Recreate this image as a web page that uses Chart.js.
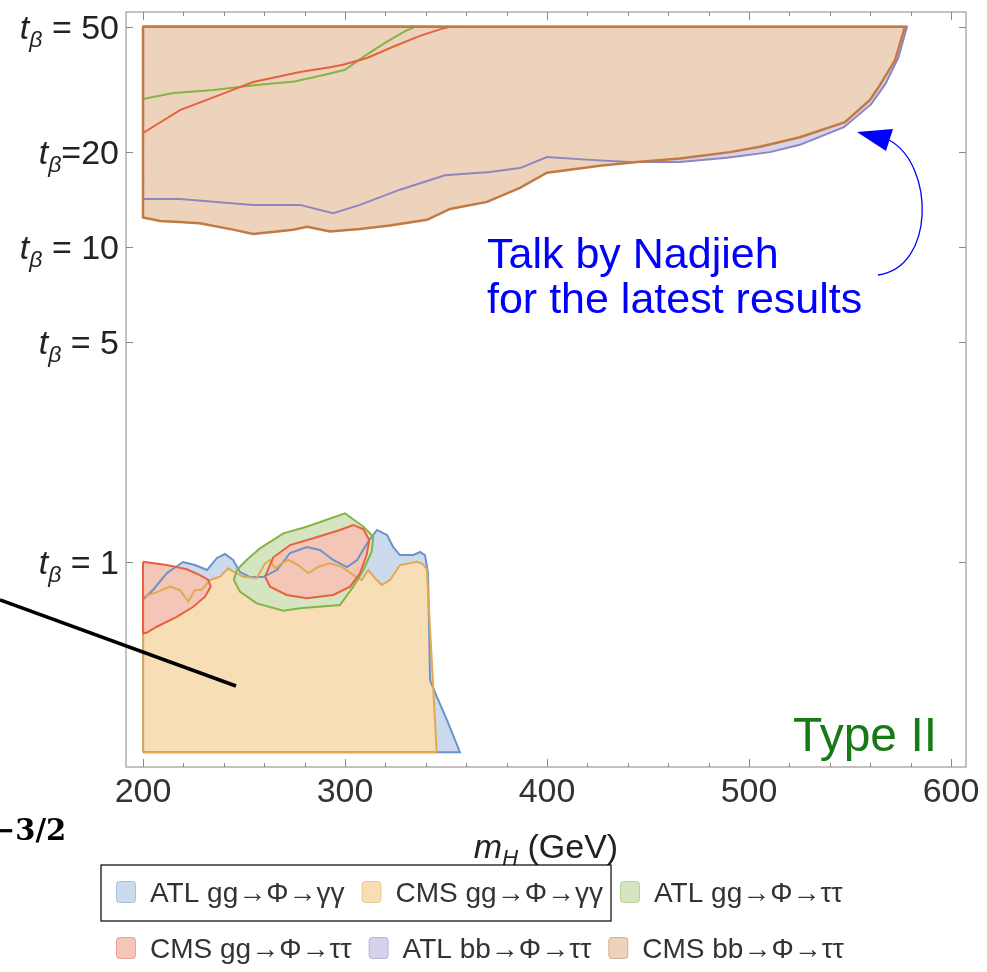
<!DOCTYPE html>
<html>
<head>
<meta charset="utf-8">
<script src="https://cdn.jsdelivr.net/npm/chart.js@4.4.1/dist/chart.umd.min.js"></script>
<style>
  html, body { margin: 0; padding: 0; background: #fff; }
  #wrap { width: 987px; height: 972px; }
</style>
</head>
<body>
<div id="wrap"><canvas id="excl"></canvas></div>
<script>
// excluded regions in the (mH, tan beta) plane, each one a closed outline
const seriesLabels = ['ATL gg\u2192\u03A6\u2192\u03B3\u03B3', 'CMS gg\u2192\u03A6\u2192\u03B3\u03B3', 'ATL gg\u2192\u03A6\u2192\u03C4\u03C4',
                      'CMS gg\u2192\u03A6\u2192\u03C4\u03C4', 'ATL bb\u2192\u03A6\u2192\u03C4\u03C4', 'CMS bb\u2192\u03A6\u2192\u03C4\u03C4'];

const xTickValues = [200, 300, 400, 500, 600];
const yTickValues = [1, 5, 10, 20, 50];
const yTickRest = [' = 1', ' = 5', ' = 10', '=20', ' = 50'];

// ATL gg -> gamma gamma
const atlGamMass = [200, 200, 204.9, 211.9, 219.8, 225.7, 231.7, 236.6, 240.6, 244.6, 248.0, 253.0, 259.4, 266.3, 272.8, 281.2, 287.6, 294.1, 301.0, 306.0, 311.0, 315.8, 320.8, 323.8, 327.2, 333.7, 337.1, 339.6, 341.1, 342.1, 345.5, 350.5, 356.9, 200];
const atlGamTanb = [0.249, 0.76, 0.815, 0.923, 1.0, 0.978, 0.943, 1.03, 1.06, 1.015, 0.93, 0.896, 0.896, 0.943, 1.068, 1.116, 1.092, 1.015, 0.964, 1.015, 1.149, 1.264, 1.218, 1.116, 1.052, 1.052, 1.076, 1.052, 0.923, 0.422, 0.373, 0.315, 0.249, 0.249];

// CMS gg -> gamma gamma
const cmsGamMass = [200, 200.1, 207.6, 213.4, 218.3, 222.4, 225.7, 229.0, 233.2, 238.1, 242.2, 244.7, 249.7, 256.3, 260.4, 262.9, 265.3, 268.7, 271.9, 276.9, 281.8, 286.8, 292.6, 298.4, 304.1, 308.3, 311.5, 314.9, 318.2, 322.3, 327.2, 335.5, 338.5, 340.5, 345.4, 200];
const cmsGamTanb = [0.249, 0.776, 0.805, 0.835, 0.815, 0.748, 0.815, 0.815, 0.877, 0.898, 0.955, 0.932, 0.898, 0.888, 0.99, 1.015, 0.955, 0.99, 1.015, 0.978, 0.921, 0.966, 0.99, 0.966, 0.909, 0.877, 0.943, 0.888, 0.845, 0.877, 0.978, 1.002, 0.985, 0.95, 0.249, 0.249];

// ATL gg -> tau tau (high tan beta part, low tan beta island)
const atlTauHiMass = [200, 215, 235, 255, 275, 290, 300, 310, 320, 330, 335, 200, 200];
const atlTauHiTanb = [29.5, 30.8, 31.5, 32.6, 33.5, 35.2, 36.5, 40.5, 44.5, 48.5, 50, 50, 29.5];
const atlTauLoMass = [246.4, 251.3, 257.9, 269.5, 281.0, 300.0, 309.1, 314.0, 313.2, 309.1, 304.1, 297.5, 277.7, 269.5, 256.3, 248.0, 245.0, 246.4];
const atlTauLoTanb = [0.943, 1.015, 1.105, 1.233, 1.294, 1.428, 1.294, 1.203, 1.078, 0.943, 0.835, 0.730, 0.713, 0.700, 0.739, 0.805, 0.877, 0.943];

// CMS gg -> tau tau (high part, two islands)
const cmsTauHiMass = [200, 218.3, 241.6, 254.5, 277.7, 292.6, 299, 310.9, 323.8, 337.1, 348.5, 352, 200, 200];
const cmsTauHiTanb = [23.0, 27.2, 31.0, 33.4, 35.9, 37.2, 37.9, 39.8, 43.2, 46.8, 49.4, 50, 50, 23.0];
const cmsTauLeftMass = [200, 211.7, 221.6, 228.2, 232.3, 233.5, 230.7, 224.9, 216.7, 206.8, 201.8, 200, 200];
const cmsTauLeftTanb = [1.002, 0.978, 0.948, 0.909, 0.877, 0.835, 0.776, 0.721, 0.670, 0.623, 0.596, 0.594, 1.002];
const cmsTauMidMass = [260.4, 264.5, 272.8, 284.3, 297.5, 304.1, 309.1, 312.0, 310.7, 307.4, 302.5, 294.2, 281.0, 271.1, 262.9, 260.4];
const cmsTauMidTanb = [0.898, 1.035, 1.132, 1.189, 1.264, 1.311, 1.270, 1.175, 1.052, 0.921, 0.835, 0.786, 0.767, 0.786, 0.835, 0.898];

// ATL bb -> tau tau
const atlBbMass = [200, 578.2, 574.0, 567.6, 560.5, 547.0, 525.2, 510.4, 489.1, 465.8, 441.1, 421.3, 400, 386.6, 371.8, 349.5, 327.2, 307.4, 294.1, 277.7, 254.5, 218.3, 200, 200];
const atlBbTanb = [50, 50, 40.0, 33.0, 28.4, 24.0, 21.1, 20.0, 19.2, 18.6, 18.6, 18.9, 19.3, 17.8, 17.3, 16.9, 15.2, 13.6, 12.8, 13.6, 13.6, 14.2, 14.2, 50];

// CMS bb -> tau tau
const cmsBbMass = [200, 577.2, 572.3, 564.9, 559.9, 547.5, 525.2, 505.4, 490.6, 465.8, 444.6, 426.2, 400, 386.6, 370.3, 352, 340.6, 322.3, 307.4, 292.6, 281.2, 274.3, 266.3, 254.5, 244.6, 228, 218, 208.4, 200, 200];
const cmsBbTanb = [50, 50, 39.2, 32.7, 29.3, 24.9, 22.3, 20.8, 20.0, 19.1, 18.6, 18.1, 17.2, 15.4, 13.9, 13.2, 12.2, 11.7, 11.4, 11.2, 11.6, 11.35, 11.2, 11.0, 11.35, 11.9, 12.0, 12.1, 12.4, 50];

const lineColors = ['#6a94c9', '#e2a94f', '#86b346', '#e8603f', '#8e86c0', '#c27a45'];
const fillColors = ['rgb(204,218,237)', 'rgb(247,222,182)', 'rgb(214,229,193)', 'rgb(243,198,184)', 'rgb(214,210,234)', 'rgb(237,211,188)'];

function region(mass, tanb, series, order) {
  return {
    label: seriesLabels[series],
    data: mass.map((m, i) => ({ x: m, y: tanb[i] })),
    showLine: true,
    fill: 'shape',
    pointRadius: 0,
    borderWidth: series === 5 ? 2.5 : 2,
    borderColor: lineColors[series],
    backgroundColor: fillColors[series],
    order: order
  };
}

const datasets = [
  region(atlGamMass, atlGamTanb, 0, 10),
  region(cmsGamMass, cmsGamTanb, 1, 9),
  region(atlTauLoMass, atlTauLoTanb, 2, 4),
  region(cmsTauLeftMass, cmsTauLeftTanb, 3, 3),
  region(cmsTauMidMass, cmsTauMidTanb, 3, 3),
  region(atlBbMass, atlBbTanb, 4, 8),
  region(atlTauHiMass, atlTauHiTanb, 2, 7),
  region(cmsTauHiMass, cmsTauHiTanb, 3, 6),
  region(cmsBbMass, cmsBbTanb, 5, 5)
];

const SANS = '"Liberation Sans", Arial, sans-serif';

// frame, inward ticks, subscripted labels, notes and the legend
const decorations = {
  id: 'decorations',
  afterDraw(chart) {
    const ctx = chart.ctx;
    const { left, right, top, bottom } = chart.chartArea;
    const xs = chart.scales.x, ys = chart.scales.y;
    ctx.save();

    // frame
    ctx.strokeStyle = '#9a9a9a';
    ctx.lineWidth = 1.2;
    ctx.strokeRect(left, top, right - left, bottom - top);

    // ticks pointing inward
    ctx.strokeStyle = '#8a8a8a';
    ctx.lineWidth = 1;
    ctx.beginPath();
    for (let m = 200; m <= 600; m += 20) {
      const px = Math.round(xs.getPixelForValue(m)) + 0.5;
      const len = m % 100 === 0 ? 8 : 4;
      ctx.moveTo(px, bottom); ctx.lineTo(px, bottom - len);
      ctx.moveTo(px, top); ctx.lineTo(px, top + len);
    }
    yTickValues.forEach(v => {
      const py = Math.round(ys.getPixelForValue(v)) + 0.5;
      ctx.moveTo(left, py); ctx.lineTo(left + 7, py);
      ctx.moveTo(right, py); ctx.lineTo(right - 7, py);
    });
    ctx.stroke();

    // y labels  t_beta = value
    ctx.fillStyle = '#222';
    ctx.textBaseline = 'alphabetic';
    ctx.textAlign = 'left';
    yTickValues.forEach((v, i) => {
      const py = ys.getPixelForValue(v);
      const parts = [
        { t: 't', f: 'italic 34px ' + SANS, dy: 0 },
        { t: '\u03B2', f: 'italic 23px ' + SANS, dy: 8 },
        { t: yTickRest[i], f: '34px ' + SANS, dy: 0 }
      ];
      let w = 0;
      parts.forEach(p => { ctx.font = p.f; p.w = ctx.measureText(p.t).width; w += p.w; });
      let x = left - 7 - w;
      parts.forEach(p => { ctx.font = p.f; ctx.fillText(p.t, x, py + 12 + p.dy); x += p.w; });
    });

    // x title  m_H (GeV)
    {
      const parts = [
        { t: 'm', f: 'italic 34px ' + SANS, dy: 0 },
        { t: 'H', f: 'italic 22px ' + SANS, dy: 7 },
        { t: ' (GeV)', f: '34px ' + SANS, dy: 0 }
      ];
      let w = 0;
      parts.forEach(p => { ctx.font = p.f; p.w = ctx.measureText(p.t).width; w += p.w; });
      let x = (left + right) / 2 - w / 2;
      parts.forEach(p => { ctx.font = p.f; ctx.fillText(p.t, x, 858 + p.dy); x += p.w; });
    }

    // notes
    ctx.fillStyle = '#0000ff';
    ctx.font = '43px ' + SANS;
    ctx.fillText('Talk by Nadjieh', 487, 268);
    ctx.fillText('for the latest results', 487, 313);

    ctx.fillStyle = '#177a17';
    ctx.font = '48px ' + SANS;
    ctx.fillText('Type II', 793, 751);

    ctx.fillStyle = '#000';
    ctx.font = 'bold 29px "DejaVu Serif", "Liberation Serif", serif';
    ctx.fillText('\u22123/2', -9, 840);

    ctx.strokeStyle = '#000';
    ctx.lineWidth = 3.5;
    ctx.beginPath();
    ctx.moveTo(0, 600);
    ctx.lineTo(236, 686);
    ctx.stroke();

    // curved arrow
    ctx.strokeStyle = '#0000ff';
    ctx.lineWidth = 1.3;
    ctx.beginPath();
    ctx.moveTo(878, 275);
    ctx.bezierCurveTo(935, 268, 935, 165, 889, 140);
    ctx.stroke();
    ctx.fillStyle = '#0000ff';
    ctx.beginPath();
    ctx.moveTo(857, 132);
    ctx.lineTo(893, 129);
    ctx.lineTo(886, 151);
    ctx.closePath();
    ctx.fill();

    // legend, three entries per row
    const rows = [[0, 1, 2], [3, 4, 5]];
    const rowY = [892, 948];
    ctx.font = '28px ' + SANS;
    let boxRight = 0;
    rows.forEach((row, r) => {
      let x = 116;
      row.forEach(s => {
        const y = rowY[r];
        ctx.fillStyle = fillColors[s];
        ctx.strokeStyle = lineColors[s];
        ctx.lineWidth = 1;
        ctx.beginPath();
        ctx.roundRect(x + 0.5, y - 10.5, 19, 21, 3);
        ctx.fill();
        ctx.globalAlpha = 0.5;
        ctx.stroke();
        ctx.globalAlpha = 1;
        x += 20 + 14;
        ctx.fillStyle = '#333';
        ctx.fillText(seriesLabels[s], x, y + 10);
        x += ctx.measureText(seriesLabels[s]).width;
        if (r === 0 && s === 1) boxRight = x + 8;
        x += 17;
      });
    });
    ctx.strokeStyle = '#000';
    ctx.lineWidth = 1.2;
    ctx.strokeRect(101, rowY[0] - 27, boxRight - 101, 56);

    ctx.restore();
  }
};

new Chart(document.getElementById('excl'), {
  type: 'scatter',
  data: { datasets },
  options: {
    responsive: true,
    maintainAspectRatio: false,
    animation: false,
    layout: { padding: { top: 12, right: 21, left: 0, bottom: 0 } },
    plugins: {
      legend: { display: false },
      tooltip: { enabled: false },
      filler: { drawTime: 'beforeDatasetsDraw' }
    },
    scales: {
      x: {
        type: 'linear',
        min: 191.58,
        max: 607.43,
        grid: { display: false, drawTicks: false },
        border: { display: false },
        afterBuildTicks: s => { s.ticks = xTickValues.map(v => ({ value: v })); },
        afterFit: s => { s.height = 205; },
        ticks: { font: { family: SANS, size: 34 }, color: '#333', padding: 5, maxRotation: 0 }
      },
      y: {
        type: 'logarithmic',
        min: 0.2235,
        max: 55.7,
        grid: { display: false, drawTicks: false },
        border: { display: false },
        afterBuildTicks: s => { s.ticks = yTickValues.map(v => ({ value: v })); },
        afterFit: s => { s.width = 126; },
        ticks: { display: false }
      }
    }
  },
  plugins: [decorations]
});
</script>
</body>
</html>
